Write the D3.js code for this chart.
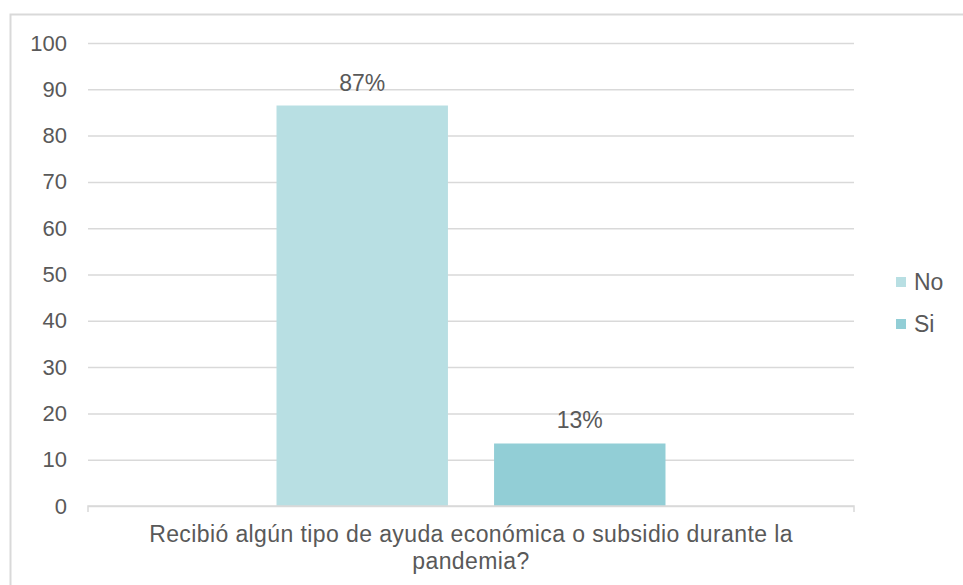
<!DOCTYPE html>
<html><head><meta charset="utf-8">
<script src="https://cdn.jsdelivr.net/npm/d3@7"></script>
<style>body{margin:0;background:#fff}svg{display:block}text{font-family:"Liberation Sans",Arial,sans-serif;fill:#595959}</style>
</head><body>
<svg id="c" width="963" height="585"></svg>
<script>
const categories = ["Recibió algún tipo de ayuda económica o subsidio durante la pandemia?"];
const categoryLines = ["Recibió algún tipo de ayuda económica o subsidio durante la", "pandemia?"];
const seriesNames = ["No", "Si"];
const seriesValues = [86.5, 13.5];
const seriesLabels = ["87%", "13%"];
const seriesColors = ["#b8dfe3", "#92ced6"];
const yTicks = [0,10,20,30,40,50,60,70,80,90,100];

(function(){
const svg = d3.select("#c");
svg.append("path").attr("d","M10.5,600V14.5H970").attr("fill","none").attr("stroke","#d9d9d9").attr("stroke-width",2);

const mL = 88, mR = 854, mT = 43, mB = 506;
const y = d3.scaleLinear().domain([0,100]).range([mB, mT]);
const x0 = d3.scaleBand().domain(categories).range([mL,mR]).paddingInner(0).paddingOuter(0.4846);
const x1 = d3.scaleBand().domain(seriesNames).range([0, x0.bandwidth()]).paddingInner(0.212).paddingOuter(0);

const yAxis = d3.axisLeft(y).tickValues(yTicks).tickSize(-(mR-mL)).tickPadding(21);
const gy = svg.append("g").attr("transform",`translate(${mL},0)`).call(yAxis);
gy.select(".domain").remove();
gy.selectAll(".tick line").attr("stroke","#d9d9d9").attr("stroke-width",1.5);
gy.selectAll(".tick text").attr("font-size",22).style("font-family","Liberation Sans, Arial, sans-serif").attr("fill","#595959");

const g = svg.append("g").attr("transform",`translate(${x0(categories[0])},0)`);
g.selectAll("rect").data(seriesNames).join("rect")
  .attr("x", d=>x1(d)).attr("width", x1.bandwidth())
  .attr("y", (d,i)=>y(seriesValues[i])).attr("height",(d,i)=>y(0)-y(seriesValues[i]))
  .attr("fill",(d,i)=>seriesColors[i]);
g.selectAll("text.lbl").data(seriesNames).join("text").attr("class","lbl")
  .attr("x", d=>x1(d)+x1.bandwidth()/2).attr("y",(d,i)=>y(seriesValues[i])-15)
  .attr("text-anchor","middle").attr("font-size",23).text((d,i)=>seriesLabels[i]);

const xAxis = d3.axisBottom(d3.scaleBand().domain(categories).range([mL,mR])).tickSize(0).tickFormat("");
svg.append("g").attr("transform",`translate(0,${mB})`).call(xAxis).select(".domain").attr("stroke","#d9d9d9").attr("stroke-width",1.5).attr("d",`M${mL},6V0H${mR}V6`);
svg.append("text").attr("x",(mL+mR)/2).attr("y",542).attr("text-anchor","middle").attr("font-size",23).style("letter-spacing","0.4px")
  .selectAll("tspan").data(categoryLines).join("tspan").attr("x",(mL+mR)/2).attr("dy",(d,i)=>i?27:0).text(d=>d);

const lg = svg.append("g");
seriesNames.forEach((s,i)=>{
  const cy = 282 + i*42;
  lg.append("rect").attr("x",896).attr("y",cy-5).attr("width",10).attr("height",10).attr("fill",seriesColors[i]);
  lg.append("text").attr("x",914).attr("y",cy).attr("dy","0.35em").attr("font-size",23).text(s);
});
})();
</script></body></html>
